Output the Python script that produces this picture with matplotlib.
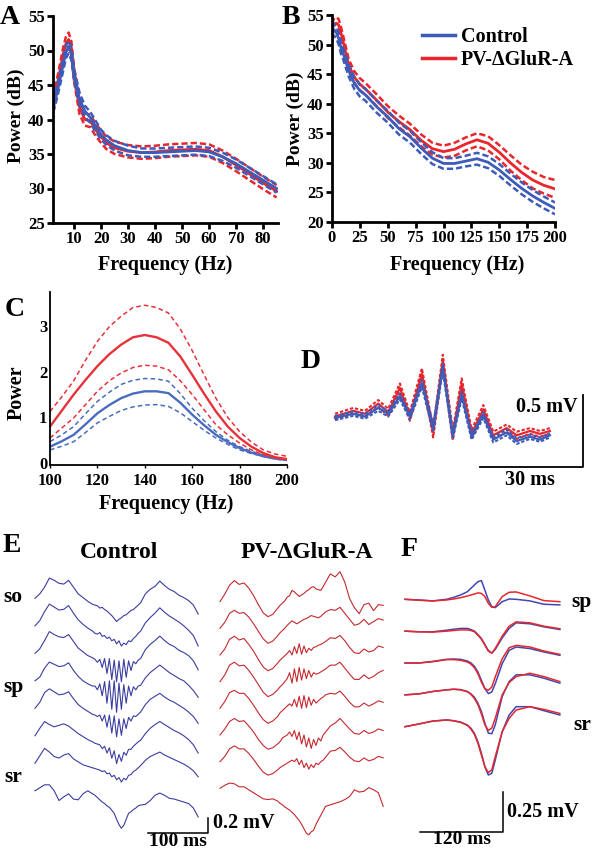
import numpy as np
import matplotlib
matplotlib.use('Agg')
import matplotlib.pyplot as plt

plt.rcParams['font.family'] = 'Liberation Serif'
plt.rcParams['font.weight'] = 'bold'
plt.rcParams['axes.labelweight'] = 'bold'

# ---- Panel A: power spectrum 0-85 Hz (dB), mean and sem
a_freq = [2.3, 4, 6, 7, 8, 9, 10, 12, 14, 16, 18, 20, 22, 25, 30, 35, 40, 45, 50, 55, 60, 65, 70, 75, 80, 85]
a_ctrl = [41.8, 44.5, 48.0, 49.8, 50.5, 49.5, 46.5, 43.0, 41.2, 40.3, 39.0, 37.8, 37.0, 36.2, 35.5, 35.2,
          35.2, 35.3, 35.4, 35.5, 35.3, 34.6, 33.6, 32.4, 31.2, 30.0]
a_pv = [42.3, 45.5, 49.5, 51.0, 51.6, 50.3, 46.5, 41.8, 40.0, 39.8, 38.5, 37.5, 36.6, 35.9, 35.4, 35.2,
        35.3, 35.5, 35.6, 35.7, 35.5, 34.6, 33.4, 32.1, 30.8, 29.6]
a_ctrl_sem = [0.8, 0.9, 0.9, 0.9, 0.9, 0.9, 0.9, 0.9, 0.8, 0.8, 0.8, 0.7, 0.7, 0.7, 0.7, 0.6,
              0.6, 0.6, 0.6, 0.6, 0.6, 0.6, 0.6, 0.6, 0.6, 0.6]
a_pv_sem = [1.0, 1.0, 1.0, 1.0, 1.0, 1.0, 1.0, 1.0, 0.9, 0.9, 0.9, 0.9, 0.9, 0.9, 0.9, 0.9,
            0.9, 0.9, 0.9, 0.9, 0.9, 0.9, 0.9, 0.9, 0.9, 0.9]

# ---- Panel B: power spectrum 0-200 Hz (dB)
b_freq = [0, 2, 4, 6, 8, 10, 15, 20, 25, 30, 40, 50, 60, 70, 80, 90, 100, 110, 120, 130, 140, 150,
          160, 170, 180, 190, 200]
b_ctrl = [52.0, 52.5, 52.0, 51.0, 49.5, 48.5, 45.6, 43.5, 42.2, 41.5, 39.5, 37.8, 35.8, 34.4, 32.5,
          30.8, 29.9, 29.9, 30.3, 30.7, 30.1, 28.8, 27.2, 25.7, 24.4, 23.3, 22.3]
b_pv = [52.5, 53.5, 53.6, 53.3, 52.0, 50.5, 46.5, 44.5, 43.3, 42.5, 40.6, 38.6, 37.0, 35.6, 33.8,
        32.4, 31.9, 32.3, 33.2, 33.9, 33.3, 31.8, 30.0, 28.4, 27.1, 26.2, 25.6]
b_ctrl_sem = [1.0, 1.0, 1.0, 1.0, 1.0, 1.0, 1.0, 1.0, 1.0, 1.0, 1.0, 1.0, 1.0, 1.0, 1.0,
              1.0, 0.9, 0.9, 0.9, 1.0, 1.0, 1.0, 1.0, 1.0, 1.0, 1.0, 1.0]
b_pv_sem = [1.0, 1.0, 1.0, 1.0, 1.0, 1.0, 1.0, 1.0, 1.0, 1.0, 1.0, 1.0, 1.0, 1.0, 1.0,
            1.0, 1.0, 1.1, 1.1, 1.1, 1.2, 1.2, 1.3, 1.3, 1.4, 1.4, 1.5]

# ---- Panel C: ripple band power 100-200 Hz, mean with upper/lower bounds
c_freq = [100, 105, 110, 115, 120, 125, 130, 135, 140, 145, 150, 155, 160, 165, 170, 175, 180, 185, 190, 195, 200]
c_pv = [0.80, 1.15, 1.50, 1.82, 2.12, 2.38, 2.59, 2.75, 2.80, 2.75, 2.63, 2.33, 1.93, 1.52, 1.13, 0.80,
        0.55, 0.36, 0.22, 0.13, 0.09]
c_pv_hi = [1.13, 1.45, 1.80, 2.25, 2.66, 2.98, 3.21, 3.40, 3.45, 3.40, 3.28, 2.93, 2.46, 1.93, 1.42, 1.00,
           0.69, 0.46, 0.29, 0.20, 0.15]
c_pv_lo = [0.55, 0.77, 0.99, 1.28, 1.57, 1.80, 1.97, 2.09, 2.14, 2.12, 2.04, 1.80, 1.50, 1.17, 0.84, 0.62,
           0.44, 0.29, 0.18, 0.11, 0.07]
c_ctrl = [0.36, 0.48, 0.62, 0.85, 1.09, 1.27, 1.42, 1.52, 1.57, 1.57, 1.53, 1.32, 1.06, 0.83, 0.62, 0.46,
          0.33, 0.23, 0.15, 0.10, 0.07]
c_ctrl_hi = [0.47, 0.62, 0.80, 1.08, 1.35, 1.55, 1.72, 1.81, 1.85, 1.84, 1.79, 1.52, 1.20, 0.93, 0.69, 0.50,
             0.36, 0.26, 0.18, 0.11, 0.07]
c_ctrl_lo = [0.29, 0.37, 0.47, 0.67, 0.88, 1.02, 1.15, 1.23, 1.27, 1.28, 1.24, 1.10, 0.91, 0.72, 0.55, 0.41,
             0.29, 0.21, 0.15, 0.09, 0.06]

# ---- Panel D: averaged ripple (mV vs ms)
d_time = [0, 5.3, 8.7, 12.6, 15.5, 18.9, 21.8, 25.3, 28.6, 31.4, 34.3, 36.9, 39.8, 43.2, 46.1, 50.0,
          52.9, 56.8, 59.7, 62.6]
d_ctrl = [0.00, 0.03, 0.01, 0.07, 0.03, 0.15, 0.01, 0.24, -0.07, 0.35, -0.12, 0.16, -0.13, 0.02, -0.15,
          -0.10, -0.16, -0.13, -0.15, -0.12]
d_pv = [0.01, 0.05, 0.03, 0.10, 0.04, 0.21, 0.01, 0.31, -0.10, 0.40, -0.12, 0.24, -0.11, 0.06, -0.12,
        -0.07, -0.12, -0.09, -0.11, -0.09]
d_ctrl_sem = [0.015, 0.015, 0.015, 0.02, 0.02, 0.02, 0.02, 0.025, 0.025, 0.025, 0.025, 0.025, 0.02, 0.02,
              0.02, 0.02, 0.02, 0.015, 0.015, 0.015]
d_pv_sem = [0.02, 0.02, 0.02, 0.025, 0.025, 0.03, 0.03, 0.035, 0.035, 0.04, 0.035, 0.035, 0.03, 0.03,
            0.025, 0.025, 0.025, 0.02, 0.02, 0.02]

# ---- Panel E: example LFP traces, 8 channels (uV vs ms)
e_time = [0, 8, 16, 24, 32, 40, 48, 56, 64, 72, 80, 88, 96,
          100, 104, 108, 112, 116, 120, 124, 128, 132, 136, 140, 144, 148, 152, 156, 160, 164, 168, 172, 176,
          184, 192, 200, 208, 216, 224, 232, 240, 248, 256, 264, 272]
e_ctrl = [
    [0, 60, 150, 270, 240, 200, 190, 240, 150, 60, 10, -40, -80,
     -90, -100, -130, -120, -150, -170, -200, -230, -270, -310, -280, -260, -230, -220, -190, -160, -150, -120, -90, -60,
     60, 120, 160, 230, 170, 120, 90, 40, 10, -30, -90, -210],
    [0, 70, 190, 290, 250, 210, 220, 270, 170, 80, 20, -30, -70,
     -100, -110, -90, -140, -130, -170, -150, -200, -180, -240, -200, -270, -230, -250, -200, -210, -170, -140, -100, -70,
     40, 110, 170, 240, 180, 130, 90, 50, 0, -60, -130, -270],
    [0, 60, 170, 290, 250, 220, 210, 250, 160, 70, 20, -30, -60,
     -80, -120, -80, -190, -70, -270, -70, -350, -90, -380, -100, -380, -80, -320, -100, -230, -110, -140, -90, -70,
     50, 120, 170, 230, 170, 120, 90, 40, 10, -30, -100, -220],
    [0, 50, 170, 250, 220, 190, 200, 240, 140, 60, 0, -40, -70,
     -70, -120, -40, -200, -10, -300, 0, -380, 0, -420, -30, -380, -50, -300, -70, -200, -80, -120, -70, -60,
     40, 110, 160, 210, 160, 110, 70, 30, 0, -60, -130, -220],
    [0, 80, 210, 260, 220, 180, 190, 220, 130, 50, 0, -40, -80,
     -90, -110, -90, -170, -90, -250, -90, -330, -100, -380, -140, -360, -140, -270, -120, -170, -100, -110, -80, -50,
     50, 120, 160, 200, 150, 110, 80, 40, 0, -50, -110, -200],
    [0, 100, 190, 150, 120, 140, 160, 130, 80, 30, -10, -50, -80,
     -100, -110, -120, -170, -140, -230, -160, -300, -200, -370, -250, -340, -220, -260, -180, -180, -140, -110, -80, -60,
     30, 100, 150, 190, 150, 110, 70, 40, 0, -50, -120, -230],
    [0, 100, 200, 150, 90, 70, 110, 130, 60, 20, -20, -40, -60,
     -70, -80, -90, -110, -100, -140, -130, -180, -160, -220, -190, -250, -200, -220, -160, -150, -110, -90, -60, -30,
     40, 90, 120, 150, 110, 80, 50, 20, -10, -50, -100, -180],
    [0, 40, 80, 80, 0, -130, -80, -40, -110, -120, -40, 0, -40,
     -60, -90, -120, -150, -170, -200, -220, -260, -300, -380, -450, -500, -460, -380, -300, -280, -250, -230, -200, -190,
     -180, -130, -60, -30, -60, -100, -110, -130, -150, -170, -230, -350],
]
e_pv = [
    [0, 100, 220, 280, 230, 250, 180, 80, -40, -150, -200, -170, -90,
     -50, -20, 10, 60, 80, 150, 130, 100, 70, 90, 110, 140, 160, 190, 200, 170, 160, 150, 200, 260,
     370, 330, 400, 260, 40, -80, -160, -40, -20, -120, -40, -50],
    [0, 80, 200, 240, 200, 210, 150, 60, -40, -140, -200, -170, -100,
     -60, -30, 0, 40, 70, 100, 80, 60, 80, 100, 120, 130, 150, 170, 160, 150, 140, 160, 190, 220,
     250, 240, 280, 200, 120, 40, 60, 120, 50, 90, 130, 110],
    [0, 80, 210, 250, 200, 220, 140, 50, -60, -160, -210, -180, -110,
     -70, -40, -10, 20, 60, 0, 110, 20, 150, 10, 120, 30, 90, 60, 100, 110, 130, 140, 160, 180,
     230, 220, 260, 190, 100, 30, 20, 80, 40, 60, 120, 100],
    [0, 90, 220, 260, 210, 220, 150, 60, -40, -140, -200, -170, -110,
     -70, -40, 0, 40, 120, -20, 170, 0, 190, 20, 170, 40, 150, 60, 120, 100, 110, 130, 150, 170,
     220, 220, 260, 180, 100, 30, 30, 90, 40, 70, 120, 150],
    [0, 90, 210, 240, 200, 200, 130, 40, -60, -150, -200, -170, -110,
     -60, -30, 0, 30, 60, 30, 120, 20, 160, 0, 170, 10, 150, 40, 120, 70, 100, 130, 150, 180,
     200, 190, 230, 160, 80, 20, 20, 70, 30, 60, 100, 80],
    [0, 80, 180, 220, 180, 190, 120, 40, -60, -140, -190, -170, -120,
     -90, -40, -20, 0, 40, -20, 60, -60, 40, -120, 0, -160, -40, -180, -60, -140, -40, -80, 0, 40,
     120, 160, 220, 150, 80, 20, 10, 60, 20, 40, 80, 60],
    [0, 70, 170, 210, 170, 170, 110, 30, -60, -140, -180, -160, -110,
     -80, -60, -40, -20, 0, 20, 0, 40, -40, 20, -80, -20, -100, -40, -80, -20, -40, 0, 20, 60,
     140, 150, 190, 130, 60, 10, 0, 50, 10, 30, 70, 50],
    [0, 40, 70, 60, 20, 20, -20, -60, -100, -140, -150, -140, -170,
     -200, -220, -250, -270, -290, -320, -350, -390, -430, -480, -540, -600, -620, -580, -560, -480, -420, -360, -300, -240,
     -220, -200, -180, -150, -110, -20, -50, -40, 10, -20, -60, -240],
]
e_layers = ['so', 'sp', 'sr']

# ---- Panel F: averaged sharp-wave field potentials, 5 channels (mV vs ms)
f_time = [0, 20, 40, 60, 70, 80, 90, 95, 100, 105, 110, 115, 120, 125, 130, 140, 150, 160, 180, 200, 223]
f_ctrl = [
    [0, -0.004, -0.010, 0, 0.012, 0.027, 0.048, 0.069, 0.090, 0.110, 0.117, 0.058, -0.004, -0.046, -0.052,
     -0.015, 0.002, 0, -0.010, -0.031, -0.035],
    [0, -0.004, -0.004, 0.006, 0.012, 0.017, 0.017, 0.010, 0, -0.021, -0.046, -0.083, -0.121, -0.137, -0.114,
     -0.042, 0.017, 0.052, 0.046, 0.027, 0.010],
    [0, 0, 0.010, 0.023, 0.025, 0.023, 0.012, 0, -0.021, -0.056, -0.108, -0.160, -0.191, -0.181, -0.129,
     -0.004, 0.079, 0.100, 0.090, 0.069, 0.048],
    [0, 0.006, 0.021, 0.031, 0.035, 0.033, 0.021, 0.006, -0.015, -0.052, -0.104, -0.177, -0.239, -0.243, -0.187,
     -0.010, 0.083, 0.125, 0.125, 0.104, 0.073],
    [0, 0.017, 0.035, 0.042, 0.037, 0.029, 0.010, -0.010, -0.042, -0.094, -0.166, -0.250, -0.302, -0.291, -0.208,
     -0.031, 0.073, 0.125, 0.125, 0.100, 0.073],
]
f_pv = [
    [0, -0.006, -0.010, -0.004, 0.002, 0.010, 0.021, 0.027, 0.033, 0.040, 0.037, 0.017, -0.025, -0.050, -0.046,
     0.017, 0.044, 0.046, 0.021, -0.008, -0.015],
    [0, -0.004, -0.006, 0, 0.004, 0.008, 0.008, 0.004, -0.004, -0.025, -0.050, -0.087, -0.125, -0.137, -0.108,
     -0.031, 0.031, 0.058, 0.052, 0.031, 0.015],
    [0, 0, 0.008, 0.021, 0.021, 0.017, 0.006, -0.008, -0.029, -0.067, -0.119, -0.160, -0.170, -0.150, -0.087,
     0.027, 0.096, 0.110, 0.100, 0.075, 0.054],
    [0, 0.006, 0.021, 0.031, 0.035, 0.031, 0.019, 0.002, -0.023, -0.062, -0.119, -0.187, -0.222, -0.208, -0.146,
     0, 0.077, 0.114, 0.135, 0.114, 0.083],
    [0, 0.017, 0.035, 0.042, 0.037, 0.027, 0.008, -0.015, -0.048, -0.104, -0.177, -0.250, -0.287, -0.270, -0.187,
     -0.031, 0.052, 0.104, 0.125, 0.108, 0.083],
]

# colours
BLUE = '#3d5cb9'
RED = '#e8262c'
E_BLUE = '#3a3d9e'
E_RED = '#c5282e'

W, H = 592, 852
fig = plt.figure(figsize=(W / 100, H / 100), dpi=100)


def box(x0, y0, x1, y1):
    # axes placed by pixel corners (top-left origin)
    return fig.add_axes([x0 / W, 1 - y1 / H, (x1 - x0) / W, (y1 - y0) / H])


def label(x, y, s, size, ha='center'):
    fig.text(x / W, 1 - y / H, s, fontsize=size, ha=ha, va='center')


def band(ax, x, m, s, color, lw=2.0, lwd=1.8, dash=(2.5, 1.2)):
    m = np.array(m)
    s = np.array(s)
    ax.plot(x, m + s, color=color, lw=lwd, dashes=dash)
    ax.plot(x, m - s, color=color, lw=lwd, dashes=dash)
    ax.plot(x, m, color=color, lw=lw)


def spec_axes(ax):
    for side in ['top', 'right']:
        ax.spines[side].set_visible(False)
    for side in ['left', 'bottom']:
        ax.spines[side].set_linewidth(2)
    ax.tick_params(direction='out', length=4.5, width=2, labelsize=12, pad=1.5)


# Panel A
axA = box(53, 16, 278, 223)
band(axA, a_freq, a_pv, a_pv_sem, RED)
band(axA, a_freq, a_ctrl, a_ctrl_sem, BLUE)
axA.set_xlim(2.2, 85.5)
axA.set_ylim(25, 55)
axA.set_xticks([10, 20, 30, 40, 50, 60, 70, 80])
axA.set_yticks([25, 30, 35, 40, 45, 50, 55])
spec_axes(axA)
axA.set_ylabel('Power (dB)', fontsize=14)
axA.yaxis.set_label_coords(-0.125, 0.52)
axA.set_xlabel('Frequency (Hz)', fontsize=14.5)
axA.xaxis.set_label_coords(0.5, -0.155)

# Panel B
axB = box(332, 15, 555, 222)
band(axB, b_freq, b_pv, b_pv_sem, RED)
band(axB, b_freq, b_ctrl, b_ctrl_sem, BLUE)
axB.set_xlim(0, 200)
axB.set_ylim(20, 55)
axB.set_xticks([0, 25, 50, 75, 100, 125, 150, 175, 200])
axB.set_yticks([20, 25, 30, 35, 40, 45, 50, 55])
spec_axes(axB)
axB.set_ylabel('Power (dB)', fontsize=14)
axB.yaxis.set_label_coords(-0.125, 0.5)
axB.set_xlabel('Frequency (Hz)', fontsize=14.5)
axB.xaxis.set_label_coords(0.56, -0.16)
hb, = axB.plot([], [], color=BLUE, lw=2.5)
hr, = axB.plot([], [], color=RED, lw=2.5)
axB.legend([hb, hr], ['Control', 'PV-\u0394GluR-A'], loc='upper left', bbox_to_anchor=(0.405, 0.94),
           frameon=False, fontsize=14.5, handlelength=1.6, handletextpad=0.3, labelspacing=0.15,
           borderpad=0, borderaxespad=0)

# Panel C
axC = box(50, 292, 287, 465)
for hi, lo, m, col in [(c_ctrl_hi, c_ctrl_lo, c_ctrl, '#4a6cc0'), (c_pv_hi, c_pv_lo, c_pv, '#e8323a')]:
    axC.plot(c_freq, hi, color=col, lw=1.1, dashes=(3, 2))
    axC.plot(c_freq, lo, color=col, lw=1.1, dashes=(3, 2))
    axC.plot(c_freq, m, color=col, lw=1.7)
axC.set_xlim(100, 200)
axC.set_ylim(-0.04, 3.74)
axC.set_xticks([100, 120, 140, 160, 180, 200])
axC.set_yticks([0, 1, 2, 3])
for side in ['top', 'right']:
    axC.spines[side].set_visible(False)
for side in ['left', 'bottom']:
    axC.spines[side].set_linewidth(1.3)
axC.tick_params(axis='x', direction='out', length=2.5, width=1, labelsize=12, pad=3)
axC.tick_params(axis='y', length=0, labelsize=12, pad=2)
axC.set_ylabel('Power', fontsize=14.5)
axC.yaxis.set_label_coords(-0.097, 0.42)
axC.set_xlabel('Frequency (Hz)', fontsize=14.5)
axC.xaxis.set_label_coords(0.49, -0.165)

# Panel D
axD = box(320, 340, 592, 490)
band(axD, d_time, d_pv, d_pv_sem, RED, lw=1.6, lwd=1.5, dash=(1.6, 0.9))
band(axD, d_time, d_ctrl, d_ctrl_sem, BLUE, lw=1.6, lwd=1.5, dash=(1.6, 0.9))
axD.set_xlim(-4.37, 74.86)
axD.set_ylim(-0.5, 0.542)
axD.axis('off')
axD.plot([42.24, 72.24, 72.24], [-0.34, -0.34, 0.16], color='black', lw=1.3)
label(577, 407, '0.5 mV', 14.5, ha='right')
label(530, 480, '30 ms', 14.5)

# Panel E
axE = box(0, 560, 400, 852)
axE.set_xlim(-58.3, 608.3)
axE.set_ylim(-3.383, 0.511)
axE.axis('off')
t = np.array(e_time)
for i, tr in enumerate(e_ctrl):
    axE.plot(t, np.array(tr) / 1000 - 0.3667 * i, color=E_BLUE, lw=0.8)
for i, tr in enumerate(e_pv):
    axE.plot(t + 308.3, np.array(tr) / 1000 - 0.0444 - 0.3556 * i, color=E_RED, lw=0.8)
axE.plot([188.3, 288.3, 288.3], [-3.13, -3.13, -2.93], color='black', lw=1.1)
label(213, 823, '0.2 mV', 14.5, ha='left')
label(178, 841, '100 ms', 14)
label(119, 552, 'Control', 17)
label(307, 552, 'PV-\u0394GluR-A', 17)
for k, name in enumerate(e_layers):
    label(13, 597 + 90 * k, name, 15.5)

# Panel F
axF = box(395, 560, 592, 852)
axF.set_xlim(-14.4, 269.3)
axF.set_ylim(-1.579, 0.2456)
axF.axis('off')
for i in range(len(f_ctrl)):
    axF.plot(f_time, np.array(f_ctrl[i]) - 0.199 * i, color='#3f48b0', lw=1.1)
    axF.plot(f_time, np.array(f_pv[i]) - 0.199 * i, color=RED, lw=1.1)
axF.plot([21.6, 141.6, 141.6], [-1.4525, -1.4525, -1.2025], color='black', lw=1.1)
label(507, 812, '0.25 mV', 14.5, ha='left')
label(462, 840, '120 ms', 14)
label(581, 602, 'sp', 15.5)
label(582, 725, 'sr', 15.5)

# panel letters
for x, y, s in [(10, 18, 'A'), (291, 18, 'B'), (15, 310, 'C'), (311, 361, 'D'), (12, 546, 'E'), (409, 549, 'F')]:
    label(x, y, s, 20)

fig.savefig('out.png', dpi=100)
